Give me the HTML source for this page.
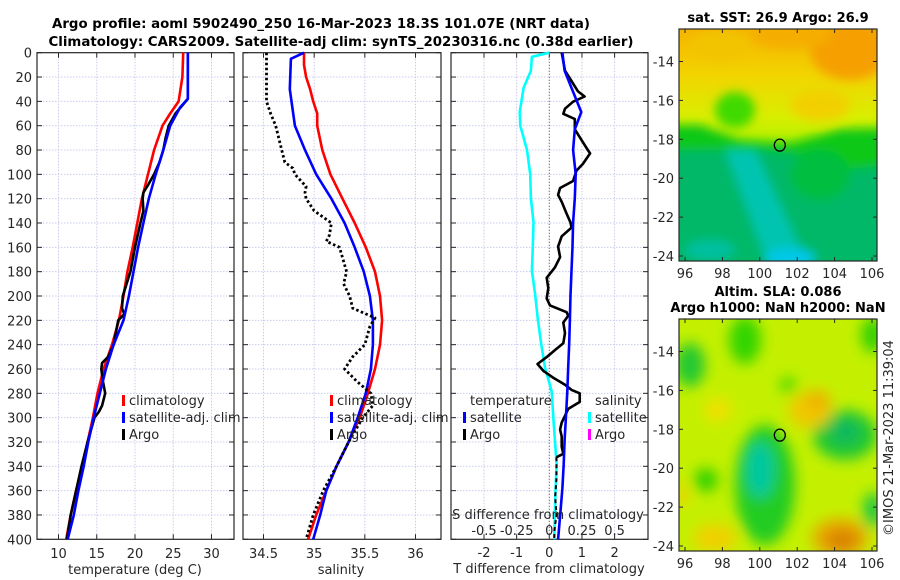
<!DOCTYPE html>
<html><head><meta charset="utf-8">
<style>
html,body{margin:0;padding:0;background:#fff;}
svg{display:block;font-family:"DejaVu Sans","Liberation Sans",sans-serif;}
</style></head>
<body>
<svg id="fig" width="900" height="580" viewBox="0 0 900 580" xmlns="http://www.w3.org/2000/svg">
<defs>
 <filter id="bl1" x="-20%" y="-20%" width="140%" height="140%"><feGaussianBlur stdDeviation="5"/></filter>
 <filter id="bl2" x="-30%" y="-30%" width="160%" height="160%"><feGaussianBlur stdDeviation="7"/></filter>
 <clipPath id="cm1"><rect x="679" y="29" width="198" height="232"/></clipPath>
 <clipPath id="cm2"><rect x="679" y="319" width="198" height="232"/></clipPath>
 <linearGradient id="g1" x1="0" y1="0" x2="0" y2="1">
  <stop offset="0" stop-color="#f5b400"/><stop offset="0.2" stop-color="#f2d400"/><stop offset="0.38" stop-color="#d8ee00"/><stop offset="0.5" stop-color="#b0f000"/>
 </linearGradient>
</defs>
<g id="titles" font-weight="bold" font-size="13" fill="#000" text-anchor="middle">
 <text x="321" y="28" textLength="538" lengthAdjust="spacingAndGlyphs">Argo profile: aoml 5902490_250 16-Mar-2023 18.3S 101.07E (NRT data)</text>
 <text x="341" y="46" textLength="585" lengthAdjust="spacingAndGlyphs">Climatology: CARS2009. Satellite-adj clim: synTS_20230316.nc (0.38d earlier)</text>
 <text x="778" y="22">sat. SST: 26.9 Argo: 26.9</text>
 <text x="778" y="296">Altim. SLA: 0.086</text>
 <text x="778" y="312">Argo h1000: NaN h2000: NaN</text>
</g>
<g id="panels"></g>
<g id="map1" clip-path="url(#cm1)">
 <rect x="679" y="29" width="198" height="232" fill="url(#g1)"/>
 <g filter="url(#bl1)">
  <ellipse cx="850" cy="50" rx="40" ry="30" fill="#f5a000"/>
  <ellipse cx="790" cy="35" rx="40" ry="14" fill="#f5ae00"/>
  <ellipse cx="720" cy="45" rx="30" ry="14" fill="#f2c400"/>
  <ellipse cx="820" cy="105" rx="30" ry="16" fill="#f2d000"/>
  <ellipse cx="735" cy="110" rx="20" ry="18" fill="#40da00"/>
  <polygon points="670,125 700,125 740,140 790,143 820,135 840,129 890,128 890,270 670,270" fill="#10c818"/>
  <polygon points="670,150 720,150 760,150 800,155 840,170 890,165 890,270 670,270" fill="#00b868"/>
  <polygon points="725,150 755,150 810,270 770,270" fill="#00c4b0"/>
  <ellipse cx="790" cy="258" rx="25" ry="10" fill="#00c8e8"/>
  <ellipse cx="820" cy="175" rx="30" ry="25" fill="#00be40"/>
  <ellipse cx="710" cy="250" rx="25" ry="10" fill="#00c0a0"/>
 </g>
</g>
<g id="map2" clip-path="url(#cm2)">
 <rect x="679" y="319" width="198" height="232" fill="#c4f000"/>
 <g filter="url(#bl2)">
  <ellipse cx="745" cy="340" rx="16" ry="24" fill="#30d400"/>
  <ellipse cx="788" cy="385" rx="8" ry="8" fill="#40d800"/>
  <ellipse cx="690" cy="365" rx="15" ry="22" fill="#20c830"/>
  <ellipse cx="873" cy="335" rx="12" ry="18" fill="#30d000"/>
  <ellipse cx="765" cy="485" rx="30" ry="60" fill="#20cc20"/>
  <ellipse cx="760" cy="470" rx="14" ry="28" fill="#00c8a0"/>
  <ellipse cx="845" cy="435" rx="32" ry="25" fill="#20c830"/>
  <ellipse cx="845" cy="432" rx="14" ry="12" fill="#10b860"/>
  <ellipse cx="706" cy="480" rx="12" ry="12" fill="#30d000"/>
  <ellipse cx="873" cy="510" rx="10" ry="18" fill="#20c840"/>
  <ellipse cx="810" cy="410" rx="22" ry="18" fill="#f0c800"/>
  <ellipse cx="818" cy="400" rx="12" ry="10" fill="#f0b000"/>
  <ellipse cx="840" cy="538" rx="28" ry="20" fill="#e8a800"/>
  <ellipse cx="842" cy="540" rx="16" ry="10" fill="#d88000"/>
  <ellipse cx="715" cy="538" rx="22" ry="14" fill="#f0d000"/>
  <ellipse cx="718" cy="410" rx="14" ry="12" fill="#f0e000"/>
  <ellipse cx="682" cy="495" rx="6" ry="12" fill="#f0d000"/>
 </g>
</g>
<g id="maplabels" font-size="13" fill="#262626"></g>
<text transform="translate(893,438) rotate(-90)" font-size="13" fill="#262626" text-anchor="middle">©IMOS 21-Mar-2023 11:39:04</text>
</svg>
<script>
// ---- data ----
const depthTicks = [0,20,40,60,80,100,120,140,160,180,200,220,240,260,280,300,320,340,360,380,400];
const tTicks = [10,15,20,25,30];
const sTicks = [34.5,35,35.5,36];
const sTickLabels = ["34.5","35","35.5","36"];
const dTTicks = [-2,-1,0,1,2];
const dSTicks = [-0.5,-0.25,0,0.25,0.5];
const dSTickLabels = ["-0.5","-0.25","0","0.25","0.5"];

const tClimDepth = [0,20,40,50,60,80,100,120,140,160,180,200,220,240,260,280,300,320,340,360,380,400];
const tClim = [26.3,26.2,25.7,24.6,23.6,22.5,21.7,20.9,20.3,19.7,19.0,18.5,17.9,17.0,15.9,15.1,14.5,13.8,13.1,12.3,11.6,11.0];
const tSatDepth = [0,20,38,45,60,80,100,120,140,160,180,200,220,240,260,280,300,320,340,360,380,400];
const tSat = [26.9,26.9,26.9,25.9,24.6,23.7,22.7,21.8,21.1,20.4,19.8,19.2,18.5,17.2,16.2,15.4,14.6,13.9,13.3,12.6,12.0,11.2];
const tArgoDepth = [0,38,50,60,70,80,90,100,110,115,120,130,140,160,180,190,200,210,215,220,240,250,255,260,270,280,290,295,300,320,340,360,380,400];
const tArgo = [26.9,26.9,25.3,24.4,24.0,23.7,23.2,22.5,21.6,21.1,21.0,21.1,20.7,20.0,19.4,18.9,18.4,18.3,18.6,17.8,17.2,16.5,15.7,15.6,15.8,16.1,15.7,15.3,14.7,13.8,13.0,12.3,11.6,11.1];

const sClimDepth = [0,10,20,30,40,50,60,80,100,120,140,160,180,200,220,240,260,280,300,320,340,360,380,400];
const sClim = [34.90,34.90,34.92,34.96,34.99,35.03,35.03,35.08,35.16,35.28,35.40,35.51,35.60,35.65,35.67,35.65,35.60,35.53,35.45,35.34,35.22,35.12,35.02,34.94];
const sSatDepth = [0,5,30,60,80,100,120,140,160,180,200,220,240,260,280,300,320,340,360,380,400];
const sSat = [34.90,34.77,34.76,34.81,34.91,35.02,35.17,35.30,35.40,35.49,35.55,35.58,35.58,35.56,35.51,35.43,35.34,35.22,35.12,35.06,34.99];
const sArgoDepth = [0,20,40,50,60,80,90,95,100,110,115,120,130,140,150,155,160,180,190,200,210,218,225,240,250,260,270,280,290,300,320,340,360,380,400];
const sArgo = [34.53,34.53,34.53,34.57,34.62,34.68,34.71,34.79,34.81,34.92,34.91,34.92,35.00,35.17,35.15,35.12,35.25,35.32,35.29,35.35,35.38,35.60,35.55,35.50,35.38,35.30,35.42,35.56,35.58,35.48,35.34,35.22,35.09,34.99,34.92];

const dSSatDepth = [0,3.4,14.8,28.9,48.8,60.1,80,99.9,119.7,139.6,159.4,179.3,199.2,219,238.9,258.7,278.6,298.5,318.3,338.2,358,377.9,400];
const dSSat = [0.0,-0.133,-0.141,-0.197,-0.227,-0.222,-0.171,-0.146,-0.141,-0.121,-0.126,-0.133,-0.108,-0.088,-0.063,-0.033,0.018,0.030,0.043,0.056,0.048,0.043,0.038];
const dTSatDepth = [0,14.8,28.9,48.8,63,80,99.9,119.7,139.6,159.4,179.3,199.2,219,238.9,258.7,278.6,298.5,318.3,338.2,358,377.9,400];
const dTSat = [0.40,0.47,0.68,0.98,0.78,0.73,0.81,0.78,0.73,0.71,0.68,0.65,0.63,0.61,0.58,0.55,0.51,0.47,0.44,0.40,0.34,0.27];
const dTArgoDepth = [0,14.8,23.3,31.8,36,40.3,46,50.2,54.5,63,71.5,80,82.8,91.4,97,105.5,111.2,116.9,122.6,131.1,139.6,143.8,150.9,159.4,168,176.5,185,193.5,202,207.7,213.3,216.2,221.9,230.4,238.9,244.5,250.2,255.9,261.6,267.2,272.9,277.2,280,287.1,292.8,298.5,304.1,309.8,315.5,324,329.7,332.5];
const dTArgo = [0.38,0.48,0.68,0.88,1.08,0.73,0.48,0.43,0.78,0.78,0.98,1.18,1.25,1.03,0.83,0.73,0.33,0.27,0.38,0.51,0.65,0.68,0.38,0.27,0.33,0.17,-0.08,-0.03,-0.08,0.02,0.53,0.58,0.43,0.48,0.43,0.17,-0.08,-0.36,-0.18,0.12,0.48,0.68,0.93,0.93,0.58,0.48,0.38,0.33,0.38,0.38,0.43,0.22];
const dTArgoTailDepth = [332.5,350,365,380,392,400];
const dTArgoTail = [0.22,0.22,0.18,0.22,0.16,0.15];

const latTicks = [-14,-16,-18,-20,-22,-24];
const lonTicks = [96,98,100,102,104,106];
const argoLon = [101.07];
const argoLat = [-18.3];

// ---- drawing ----
const NS='http://www.w3.org/2000/svg';
const Y0=52.7, Y1=539.3;
function yD(d){return Y0+(d/400)*(Y1-Y0);}
function mk(tag,attrs,parent){const e=document.createElementNS(NS,tag);for(const k in attrs)e.setAttribute(k,attrs[k]);parent.appendChild(e);return e;}
const panels=document.getElementById('panels');

function linScale(v0,v1,p0,p1){return v=>p0+(v-v0)/(v1-v0)*(p1-p0);}
function drawLine(g,xs,ds,xf,color,extra,name){
  let d='';
  for(let i=0;i<xs.length;i++){d+=(i?'L':'M')+xf(xs[i]).toFixed(1)+','+yD(ds[i]).toFixed(1);}
  const p=mk('path',Object.assign({d:d,fill:'none',stroke:color,'stroke-width':2.6,'stroke-linejoin':'round'},extra||{}),g);
  
  
  return p;
}
function axesBox(g,x0,x1,xt,xf,showY){
  // grid
  depthTicks.forEach(d=>{ if(d>0&&d<400) mk('line',{x1:x0,x2:x1,y1:yD(d),y2:yD(d),stroke:'#c6cdec','stroke-width':1,'stroke-dasharray':'1.5,1.5'},g);});
  xt.forEach(v=>{const x=xf(v); mk('line',{x1:x,x2:x,y1:Y0,y2:Y1,stroke:'#d0c8e8','stroke-width':1,'stroke-dasharray':'1.5,1.5'},g);});
  // ticks
  depthTicks.forEach(d=>{const y=yD(d);
    mk('line',{x1:x0,x2:x0+5,y1:y,y2:y,stroke:'#262626','stroke-width':1},g);
    mk('line',{x1:x1-5,x2:x1,y1:y,y2:y,stroke:'#262626','stroke-width':1},g);
    if(showY){const t=mk('text',{x:x0-5,y:y+5,'text-anchor':'end','font-size':13,fill:'#262626'},g);t.textContent=d;
      
      }
  });
  xt.forEach(v=>{const x=xf(v);
    mk('line',{x1:x,x2:x,y1:Y1,y2:Y1-5,stroke:'#262626','stroke-width':1},g);
    mk('line',{x1:x,x2:x,y1:Y0,y2:Y0+5,stroke:'#262626','stroke-width':1},g);
  });
  mk('rect',{x:x0,y:Y0,width:x1-x0,height:Y1-Y0,fill:'none',stroke:'#262626','stroke-width':1.2},g);
}
function xLabels(g,xt,labels,xf,y,name){
  xt.forEach((v,i)=>{const t=mk('text',{x:xf(v),y:y,'text-anchor':'middle','font-size':13,fill:'#262626'},g);t.textContent=labels?labels[i]:String(v);
    
    });
}
function txt(g,x,y,s,opts,name){const t=mk('text',Object.assign({x:x,y:y,'font-size':13,fill:'#262626'},opts||{}),g);t.textContent=s;
  
  
  return t;}
function legendEntry(g,x,y,color,label,name){
  const r=mk('rect',{x:x,y:y-10,width:3,height:11,fill:color},g);
  
  
  txt(g,x+7,y,label,{},name);
}

// Panel 1: temperature
const g1=mk('g',{},panels);


const xT=linScale(10,30,58.5,211.5);
axesBox(g1,37,234,tTicks,xT,true);
drawLine(g1,tClim,tClimDepth,xT,'#ff0000',{},'temperature-climatology-line');
drawLine(g1,tArgo,tArgoDepth,xT,'#000000',{},'temperature-argo-line');
drawLine(g1,tSat,tSatDepth,xT,'#0000ff',{},'temperature-satellite-line');
xLabels(g1,tTicks,null,xT,558,'temperature-x-tick-label');
txt(g1,135,574,'temperature (deg C)',{'text-anchor':'middle'},'temperature-x-axis-title');
legendEntry(g1,122,405,'#ff0000','climatology','legend-climatology');
legendEntry(g1,122,422,'#0000ff','satellite-adj. clim','legend-satellite-adj');
legendEntry(g1,122,439,'#000000','Argo','legend-argo');

// Panel 2: salinity
const g2=mk('g',{},panels);


const xS=linScale(34.5,36,263.5,415.5);
axesBox(g2,243,441,sTicks,xS,false);
drawLine(g2,sClim,sClimDepth,xS,'#ff0000',{},'salinity-climatology-line');
drawLine(g2,sSat,sSatDepth,xS,'#0000ff',{},'salinity-satellite-line');
drawLine(g2,sArgo,sArgoDepth,xS,'#000000',{'stroke-dasharray':'2.5,2.5','stroke-width':2.8},'salinity-argo-line');
xLabels(g2,sTicks,sTickLabels,xS,558,'salinity-x-tick-label');
txt(g2,341,574,'salinity',{'text-anchor':'middle'},'salinity-x-axis-title');
legendEntry(g2,330,405,'#ff0000','climatology','legend-climatology');
legendEntry(g2,330,422,'#0000ff','satellite-adj. clim','legend-satellite-adj');
legendEntry(g2,330,439,'#000000','Argo','legend-argo');

// Panel 3: differences
const g3=mk('g',{},panels);


const xDT=linScale(-2,2,484,614.6);
const xDS=linScale(-0.5,0.5,484,614.6);
axesBox(g3,451,648,dTTicks,xDT,false);
mk('line',{x1:xDT(0),x2:xDT(0),y1:Y0,y2:Y1,stroke:'#555','stroke-width':1,'stroke-dasharray':'1,2'},g3);
drawLine(g3,dSSat,dSSatDepth,xDS,'#00ffff',{},'salinity-diff-satellite-line');
drawLine(g3,dTArgo,dTArgoDepth,xDT,'#000000',{},'temperature-diff-argo-line');
drawLine(g3,dTArgoTail,dTArgoTailDepth,xDT,'#000000',{'stroke-dasharray':'4,3','stroke-width':2},'temperature-diff-argo-tail');
drawLine(g3,dTSat,dTSatDepth,xDT,'#0000ff',{},'temperature-diff-satellite-line');
xLabels(g3,dTTicks,null,xDT,557,'t-diff-tick-label');
txt(g3,549,573,'T difference from climatology',{'text-anchor':'middle'},'t-diff-axis-title');
txt(g3,548,519,'S difference from climatology',{'text-anchor':'middle'},'s-diff-axis-title');
xLabels(g3,dSTicks,dSTickLabels,xDS,535,'s-diff-tick-label');
txt(g3,470,405,'temperature',{},'legend-temperature-header');
legendEntry(g3,463,422,'#0000ff','satellite','legend-t-satellite');
legendEntry(g3,463,439,'#000000','Argo','legend-t-argo');
txt(g3,595,405,'salinity',{},'legend-salinity-header');
legendEntry(g3,588,422,'#00ffff','satellite','legend-s-satellite');
legendEntry(g3,588,439,'#ff00ff','Argo','legend-s-argo');

// Maps axes
const ml=document.getElementById('maplabels');
function mapAxes(top,name){
  const x0=679,x1=877,y1=top+232;
  const lonF=linScale(96,106,685,872);
  const latF=linScale(-14,-24,top+32.5,top+227);
  latTicks.forEach(v=>{const y=latF(v);
    mk('line',{x1:x0,x2:x0+4,y1:y,y2:y,stroke:'#262626'},ml);
    mk('line',{x1:x1-4,x2:x1,y1:y,y2:y,stroke:'#262626'},ml);
    const t=mk('text',{x:674,y:y+5,'text-anchor':'end'},ml);t.textContent=v;
    
    
  });
  lonTicks.forEach(v=>{const x=lonF(v);
    mk('line',{x1:x,x2:x,y1:y1,y2:y1-4,stroke:'#262626'},ml);
    mk('line',{x1:x,x2:x,y1:top,y2:top+4,stroke:'#262626'},ml);
    const t=mk('text',{x:x,y:y1+17,'text-anchor':'middle'},ml);t.textContent=v;
    
    
  });
  mk('rect',{x:x0,y:top,width:198,height:232,fill:'none',stroke:'#262626','stroke-width':1.2},ml);
  const c=mk('ellipse',{cx:lonF(argoLon[0]),cy:latF(argoLat[0]),rx:5.5,ry:6,fill:'none',stroke:'#000','stroke-width':1.3},ml);
  
  
}
mapAxes(29,'sst-map');
mapAxes(319,'sla-map');
</script>
</body></html>
